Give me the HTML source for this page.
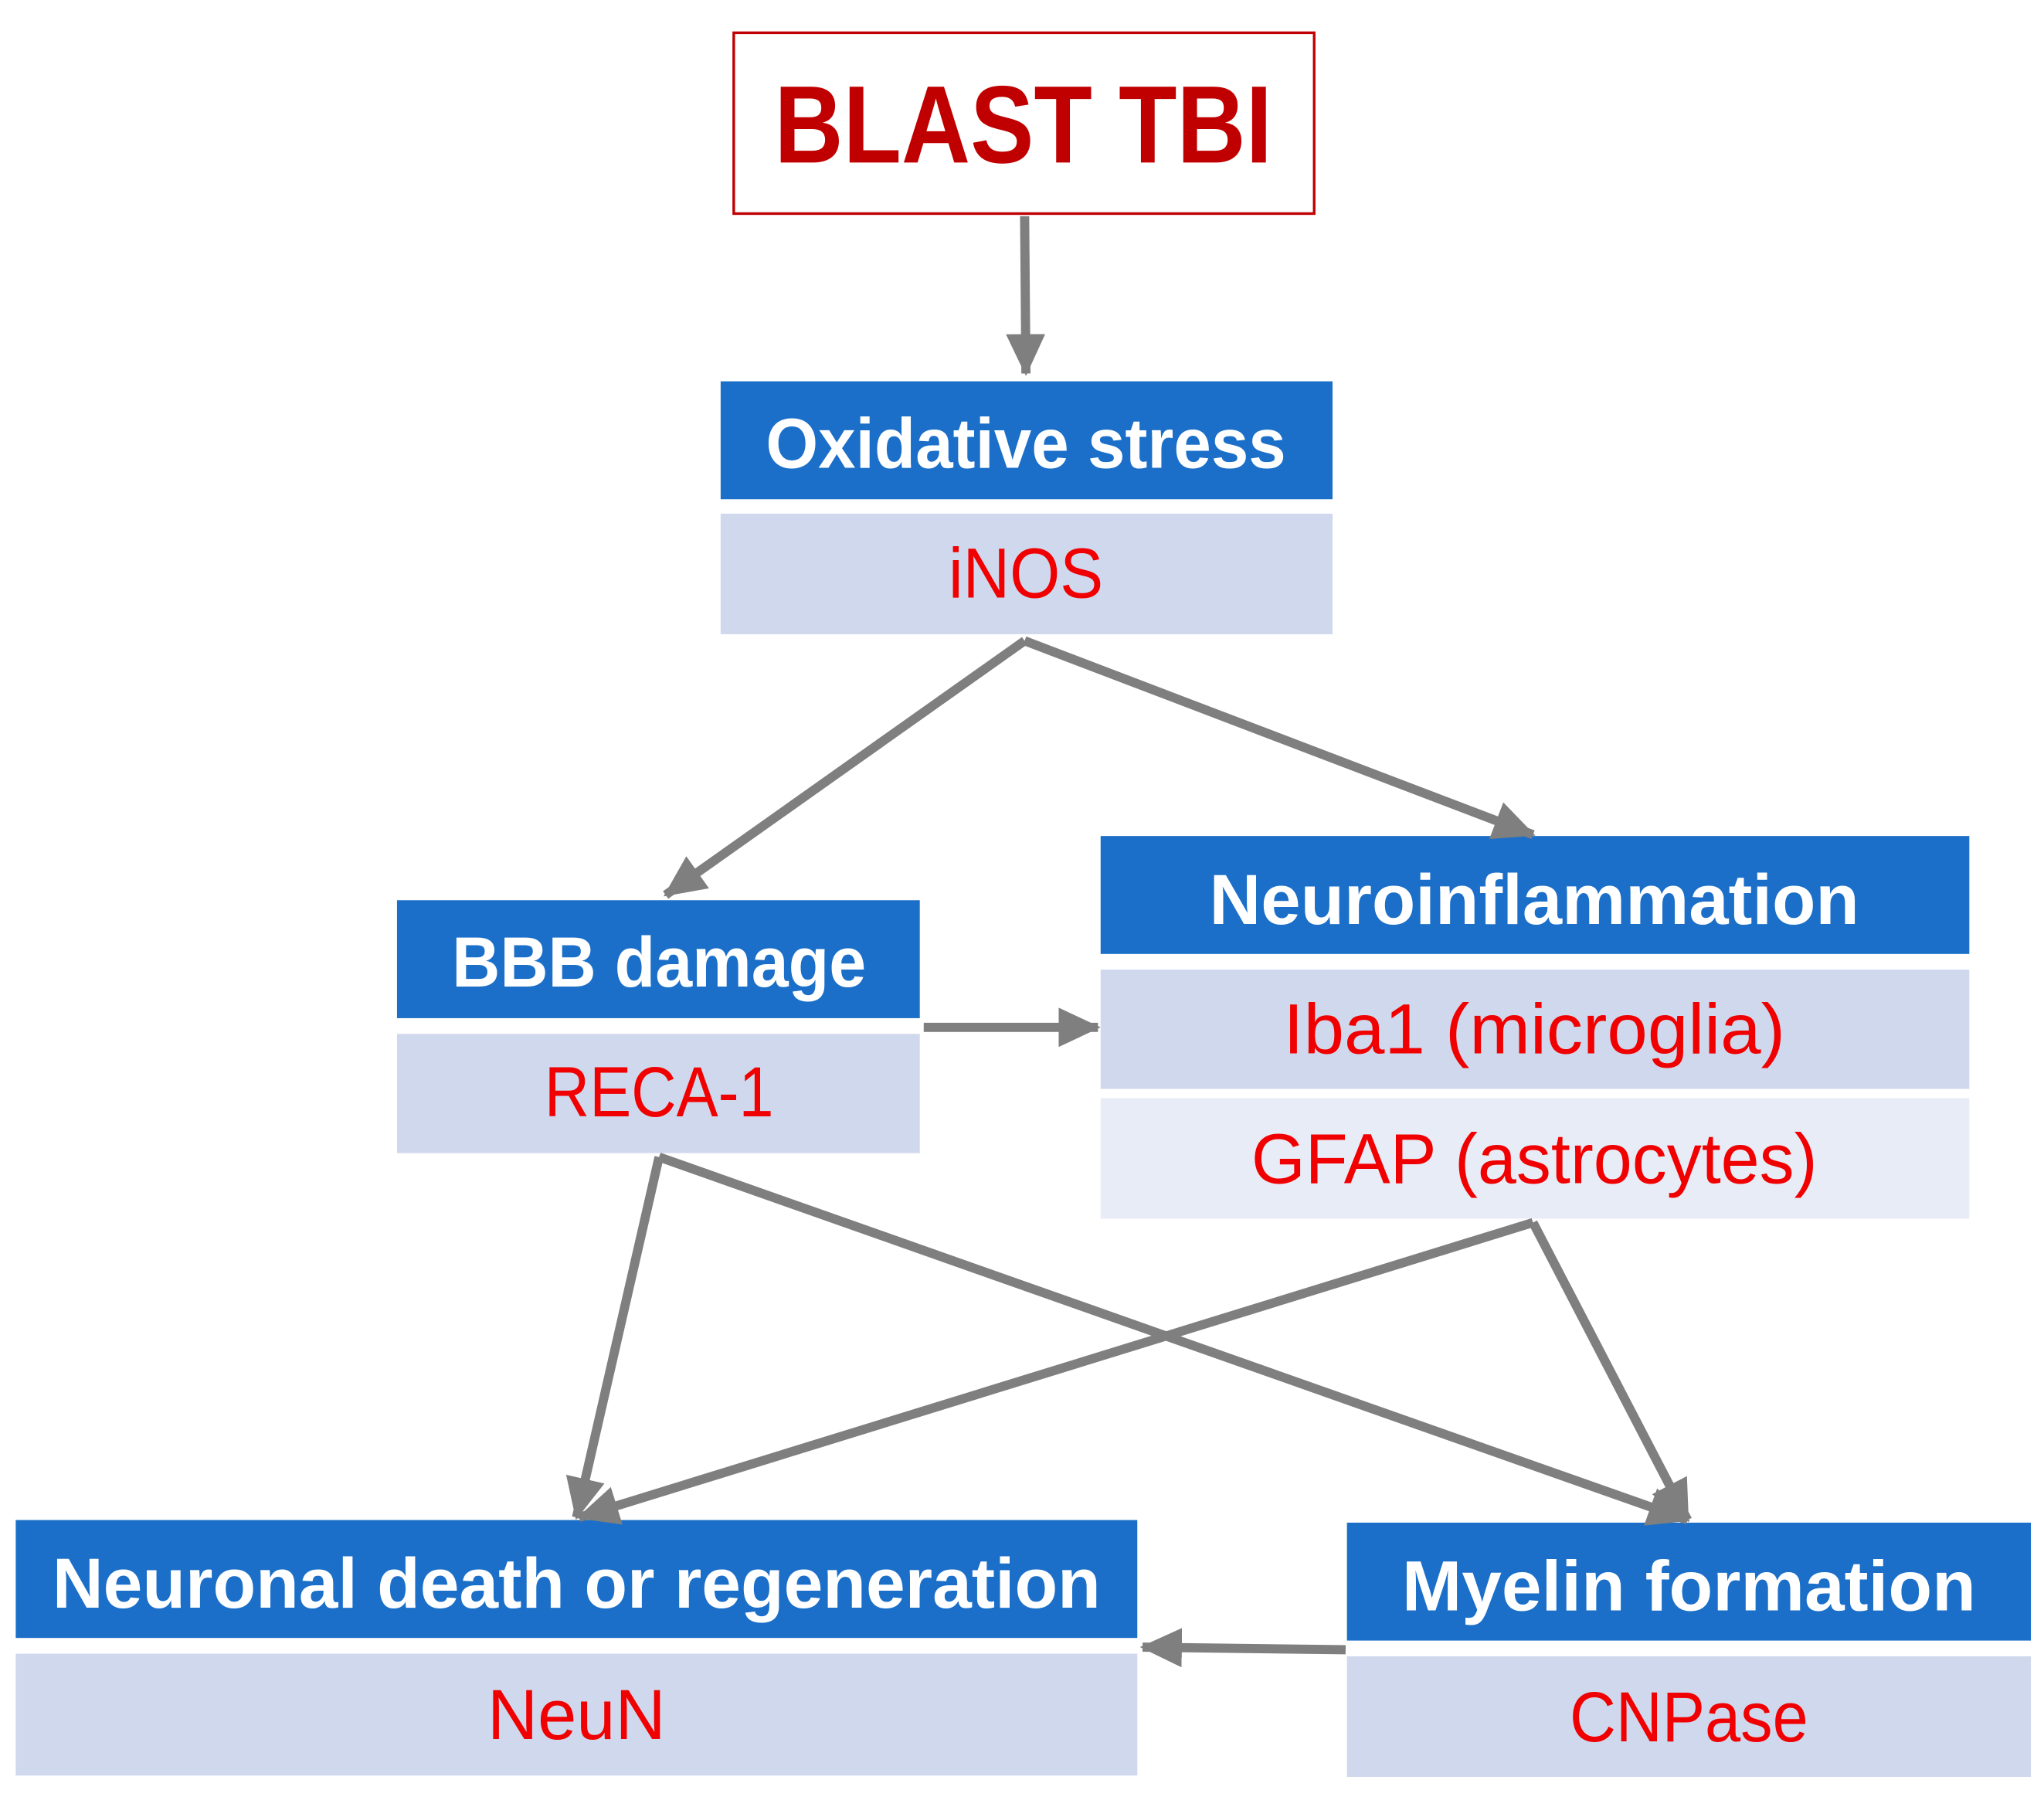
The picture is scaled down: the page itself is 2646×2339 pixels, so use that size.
<!DOCTYPE html>
<html><head><meta charset="utf-8"><style>html,body{margin:0;padding:0;background:#fff}svg{display:block}</style></head>
<body>
<svg width="2646" height="2339" viewBox="0 0 1560 1379" preserveAspectRatio="none" xmlns="http://www.w3.org/2000/svg">
<defs>
<marker id="ah" markerUnits="userSpaceOnUse" markerWidth="34" markerHeight="30" refX="30" refY="15" orient="auto">
<path d="M0,0 L32,15 L0,30 Z" fill="#7f7f7f"/>
</marker>
</defs>
<rect width="1560" height="1379" fill="#fff"/>
<!-- BLAST TBI -->
<rect x="560" y="25" width="443" height="138" fill="#fff" stroke="#c00000" stroke-width="2"/>
<text x="781" y="124" text-anchor="middle" font-family="Liberation Sans, sans-serif" font-weight="bold" font-size="84" fill="#c00000" textLength="380" lengthAdjust="spacingAndGlyphs">BLAST TBI</text>

<!-- Oxidative stress -->
<rect x="550" y="291" width="467" height="90" fill="#1b6fc8"/>
<rect x="550" y="392" width="467" height="92" fill="#cfd8ec"/>
<text x="783" y="357" text-anchor="middle" font-family="Liberation Sans, sans-serif" font-weight="bold" font-size="54" fill="#fff" textLength="397" lengthAdjust="spacingAndGlyphs">Oxidative stress</text>
<text x="783" y="456" text-anchor="middle" font-family="Liberation Sans, sans-serif" font-size="54" fill="#f00000" textLength="118" lengthAdjust="spacingAndGlyphs">iNOS</text>

<!-- BBB -->
<rect x="303" y="687" width="399" height="90" fill="#1b6fc8"/>
<rect x="303" y="789" width="399" height="91" fill="#cfd8ec"/>
<text x="503" y="753" text-anchor="middle" font-family="Liberation Sans, sans-serif" font-weight="bold" font-size="54" fill="#fff" textLength="316" lengthAdjust="spacingAndGlyphs">BBB damage</text>
<text x="503" y="852" text-anchor="middle" font-family="Liberation Sans, sans-serif" font-size="54" fill="#f00000" textLength="175" lengthAdjust="spacingAndGlyphs">RECA-1</text>

<!-- Neuroinflammation -->
<rect x="840" y="638" width="663" height="90" fill="#1b6fc8"/>
<rect x="840" y="740" width="663" height="91" fill="#cfd8ec"/>
<rect x="840" y="838" width="663" height="92" fill="#e8ecf6"/>
<text x="1171" y="705" text-anchor="middle" font-family="Liberation Sans, sans-serif" font-weight="bold" font-size="54" fill="#fff" textLength="496" lengthAdjust="spacingAndGlyphs">Neuroinflammation</text>
<text x="1171" y="804" text-anchor="middle" font-family="Liberation Sans, sans-serif" font-size="54" fill="#f00000" textLength="383" lengthAdjust="spacingAndGlyphs">Iba1 (microglia)</text>
<text x="1171" y="903" text-anchor="middle" font-family="Liberation Sans, sans-serif" font-size="54" fill="#f00000" textLength="432" lengthAdjust="spacingAndGlyphs">GFAP (astrocytes)</text>

<!-- Neuronal -->
<rect x="12" y="1160" width="856" height="90" fill="#1b6fc8"/>
<rect x="12" y="1262" width="856" height="93" fill="#cfd8ec"/>
<text x="440" y="1227" text-anchor="middle" font-family="Liberation Sans, sans-serif" font-weight="bold" font-size="54" fill="#fff" textLength="800" lengthAdjust="spacingAndGlyphs">Neuronal death or regeneration</text>
<text x="440" y="1327" text-anchor="middle" font-family="Liberation Sans, sans-serif" font-size="54" fill="#f00000" textLength="136" lengthAdjust="spacingAndGlyphs">NeuN</text>

<!-- Myelin -->
<rect x="1028" y="1162" width="522" height="90" fill="#1b6fc8"/>
<rect x="1028" y="1264" width="522" height="92" fill="#cfd8ec"/>
<text x="1289" y="1229" text-anchor="middle" font-family="Liberation Sans, sans-serif" font-weight="bold" font-size="54" fill="#fff" textLength="438" lengthAdjust="spacingAndGlyphs">Myelin formation</text>
<text x="1289" y="1329" text-anchor="middle" font-family="Liberation Sans, sans-serif" font-size="54" fill="#f00000" textLength="182" lengthAdjust="spacingAndGlyphs">CNPase</text>

<!-- connectors -->
<g stroke="#7f7f7f" stroke-width="7" fill="none" marker-end="url(#ah)">
<line x1="782" y1="165" x2="783" y2="285"/>
<line x1="782" y1="489" x2="508" y2="683"/>
<line x1="782" y1="489" x2="1170" y2="637"/>
<line x1="705" y1="784" x2="838" y2="784"/>
<line x1="503" y1="883" x2="440" y2="1158"/>
<line x1="503" y1="883" x2="1288" y2="1160"/>
<line x1="1170" y1="933" x2="442" y2="1158"/>
<line x1="1170" y1="933" x2="1288" y2="1160"/>
<line x1="1027" y1="1259" x2="872" y2="1257"/>
</g>
</svg>
</body></html>
